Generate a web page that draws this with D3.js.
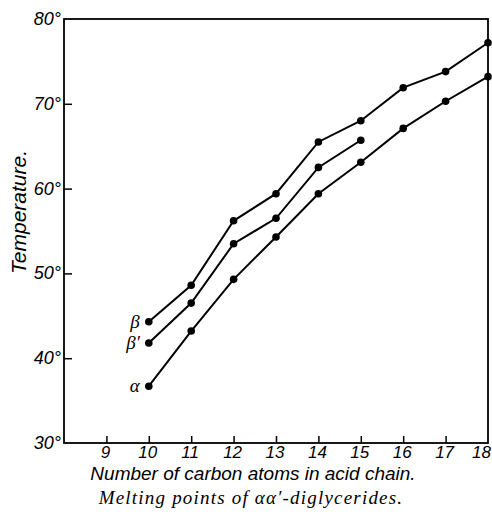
<!DOCTYPE html>
<html><head><meta charset="utf-8">
<script src="https://cdn.jsdelivr.net/npm/d3@7"></script>
<style>body{margin:0;background:#fff}svg{display:block}</style>
</head><body>
<script>
const xTicks = [9,10,11,12,13,14,15,16,17,18];
const yTicks = [30,40,50,60,70,80];
const betaX = [10,11,12,13,14,15,16,17,18];
const betaY = [44.3,48.6,56.2,59.4,65.5,68.0,71.9,73.8,77.2];
const betaPrimeX = [10,11,12,13,14,15];
const betaPrimeY = [41.8,46.5,53.5,56.5,62.5,65.7];
const alphaX = [10,11,12,13,14,15,16,17,18];
const alphaY = [36.7,43.2,49.3,54.3,59.4,63.1,67.1,70.3,73.2];
const seriesLabels = ["β","β′","α"];

const W=492,H=518;
const svg=d3.select("body").append("svg").attr("width",W).attr("height",H);
const x=d3.scaleLinear().domain([8,18]).range([64,488]);
const y=d3.scaleLinear().domain([30,80]).range([443,19]);
const sans="'Liberation Sans', Arial, sans-serif";
const serif="'Liberation Serif', 'DejaVu Serif', serif";

// frame
svg.append("rect").attr("x",x(8)).attr("y",y(80)).attr("width",x(18)-x(8)).attr("height",y(30)-y(80))
  .attr("fill","none").attr("stroke","#000").attr("stroke-width",1.8);

// y ticks
const ya=svg.append("g").attr("transform",`translate(${x(8)},0)`)
  .call(d3.axisRight(y).tickValues(yTicks.slice(1,-1)).tickSize(8).tickFormat(""));
ya.select(".domain").remove();
ya.selectAll("line").attr("stroke","#000").attr("stroke-width",1.5);
svg.selectAll(".ylab").data(yTicks).enter().append("text")
  .attr("x",x(8)-3).attr("y",d=>y(d)+6).attr("text-anchor","end")
  .attr("font-family",sans).attr("font-style","italic").attr("font-size",18)
  .text(d=>d+"°");

// x ticks
const xa=svg.append("g").attr("transform",`translate(0,${y(30)})`)
  .call(d3.axisTop(x).tickValues(xTicks.slice(0,-1)).tickSize(7).tickFormat(""));
xa.select(".domain").remove();
xa.selectAll("line").attr("stroke","#000").attr("stroke-width",1.5);
svg.selectAll(".xlab").data(xTicks).enter().append("text")
  .attr("x",d=>d===18?x(d)+3:x(d)-1).attr("y",458)
  .attr("text-anchor",d=>d===18?"end":"middle")
  .attr("font-family",sans).attr("font-style","italic").attr("font-size",17)
  .text(d=>d);

// axis titles
svg.append("text").attr("x",253).attr("y",480).attr("text-anchor","middle")
  .attr("font-family",sans).attr("font-style","italic").attr("font-size",19)
  .text("Number of carbon atoms in acid chain.");
svg.append("text").attr("transform","translate(26,212) rotate(-90)").attr("text-anchor","middle")
  .attr("font-family",sans).attr("font-style","italic").attr("font-size",21)
  .text("Temperature.");
svg.append("text").attr("x",251).attr("y",504).attr("text-anchor","middle")
  .attr("font-family",serif).attr("font-style","italic").attr("font-size",19)
  .attr("letter-spacing",1.2)
  .text("Melting points of αα′-diglycerides.");

// series
const series=[[betaX,betaY],[betaPrimeX,betaPrimeY],[alphaX,alphaY]];
const line=d3.line().x(d=>x(d[0])).y(d=>y(d[1]));
series.forEach(([xs,ys],i)=>{
  const pts=xs.map((v,j)=>[v,ys[j]]);
  svg.append("path").attr("d",line(pts)).attr("fill","none").attr("stroke","#000").attr("stroke-width",2);
  svg.selectAll(null).data(pts).enter().append("circle")
    .attr("cx",d=>x(d[0])).attr("cy",d=>y(d[1])).attr("r",3.8).attr("fill","#000");
  svg.append("text").attr("x",x(xs[0])-9).attr("y",y(ys[0])+6).attr("text-anchor","end")
    .attr("font-family",serif).attr("font-style","italic").attr("font-size",19)
    .text(seriesLabels[i]);
});
</script>
</body></html>
